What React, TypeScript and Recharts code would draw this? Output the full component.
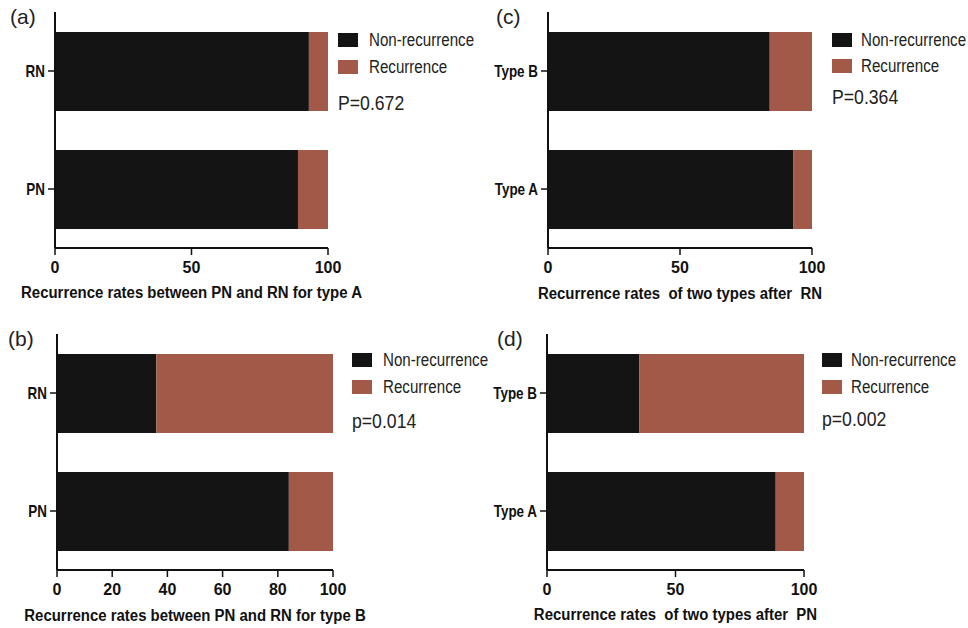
import React from "react";
import { BarChart, Bar, XAxis, YAxis, Legend } from "recharts";

const FONT = "'Liberation Sans', Arial, Helvetica, sans-serif";
const BLACK = "#141414";
const RUST = "#a25948";
const SQUEEZE = 0.84;

const seriesNames = ["Non-recurrence", "Recurrence"];
const seriesColors = [BLACK, RUST];

// (a) type A: PN vs RN
const catsA = ["RN", "PN"];
const nonRecA = [93, 89];
const recA = [7, 11];

// (b) type B: PN vs RN
const catsB = ["RN", "PN"];
const nonRecB = [36, 84];
const recB = [64, 16];

// (c) after RN: type A vs B
const catsC = ["Type B", "Type A"];
const nonRecC = [84, 93];
const recC = [16, 7];

// (d) after PN: type A vs B
const catsD = ["Type B", "Type A"];
const nonRecD = [36, 89];
const recD = [64, 11];

const ticks50 = [0, 50, 100];
const ticks20 = [0, 20, 40, 60, 80, 100];

interface PanelProps {
  tag: string;
  cats: string[];
  nonRec: number[];
  rec: number[];
  ticks: number[];
  title: string;
  pText: string;
  left: number;
  top: number;
  plotLeft: number;
  plotRight: number;
  plotTop: number;
  plotBottom: number;
  legendX: number;
  textGap: number;
  rowY: number[];
  pY: number;
  tagX: number;
  tagY: number;
  titleBase: number;
}

const W = 484;
const H = 314;

// condensed category labels, like the narrow font of the original
const YTick = (props: any) => {
  const { x, y, payload } = props;
  return (
    <g transform={`translate(${x},${y})`}>
      <text
        x={0}
        y={0}
        dy="0.36em"
        textAnchor="end"
        transform={`scale(${SQUEEZE},1)`}
        fill="#111"
        fontSize={16}
        fontWeight={700}
        fontFamily={FONT}
      >
        {payload.value}
      </text>
    </g>
  );
};

const Squeezed: React.FC<{ children: React.ReactNode; size: number }> = ({ children, size }) => (
  <span
    style={{
      display: "inline-block",
      fontSize: size,
      transform: `scaleX(${SQUEEZE})`,
      transformOrigin: "left center",
      whiteSpace: "nowrap",
    }}
  >
    {children}
  </span>
);

const Panel: React.FC<PanelProps> = (p) => {
  const data = p.cats.map((c, i) => ({ cat: c, nonRec: p.nonRec[i], rec: p.rec[i] }));
  const midX = (p.plotLeft + p.plotRight) / 2;

  const legendContent = () => (
    <div style={{ position: "relative", width: 160, height: 130, fontFamily: FONT, color: "#222" }}>
      {seriesNames.map((name, i) => (
        <div
          key={name}
          style={{ position: "absolute", left: 0, top: p.rowY[i] - 10, height: 20, display: "flex", alignItems: "center", whiteSpace: "nowrap" }}
        >
          <div style={{ width: 20, height: 14, background: seriesColors[i], marginRight: p.textGap - 20 }} />
          <span style={{ lineHeight: "20px" }}>
            <Squeezed size={18}>{name}</Squeezed>
          </span>
        </div>
      ))}
      <div style={{ position: "absolute", left: 0, top: p.pY - 12, lineHeight: "24px", whiteSpace: "nowrap" }}>
        <Squeezed size={21}>{p.pText}</Squeezed>
      </div>
    </div>
  );

  const titleLabel = () => (
    <text
      x={0}
      y={0}
      transform={`translate(${midX},${p.titleBase}) scale(0.88,1)`}
      textAnchor="middle"
      fill="#111"
      fontSize={17}
      fontWeight={700}
      fontFamily={FONT}
      style={{ whiteSpace: "pre" }}
    >
      {p.title}
    </text>
  );

  return (
    <div style={{ position: "absolute", left: p.left, top: p.top, width: W, height: H }}>
      <div
        style={{ position: "absolute", left: p.tagX, top: p.tagY - 12, fontFamily: FONT, fontSize: 21, lineHeight: "24px", color: "#222", zIndex: 2 }}
      >
        {p.tag}
      </div>
      <BarChart
        width={W}
        height={H}
        layout="vertical"
        data={data}
        margin={{ top: p.plotTop, right: W - p.plotRight, bottom: 0, left: 0 }}
      >
        <XAxis
          type="number"
          domain={[0, 100]}
          ticks={p.ticks}
          interval={0}
          height={H - p.plotBottom}
          axisLine={{ stroke: "#111", strokeWidth: 2 }}
          tickLine={{ stroke: "#111", strokeWidth: 1.5 }}
          tickSize={7}
          tickMargin={7}
          tick={{ fill: "#111", fontSize: 16, fontWeight: 700, fontFamily: FONT }}
          label={titleLabel}
        />
        <YAxis
          type="category"
          dataKey="cat"
          width={p.plotLeft}
          axisLine={{ stroke: "#111", strokeWidth: 2 }}
          tickLine={{ stroke: "#111", strokeWidth: 1.5 }}
          tickSize={7}
          tickMargin={3}
          tick={<YTick />}
        />
        <Legend
          layout="vertical"
          align="center"
          verticalAlign="middle"
          content={legendContent}
          wrapperStyle={{ left: p.legendX, top: 0, width: 160, height: 130 }}
        />
        <Bar dataKey="nonRec" name={seriesNames[0]} stackId="s" fill={BLACK} barSize={79} isAnimationActive={false} />
        <Bar dataKey="rec" name={seriesNames[1]} stackId="s" fill={RUST} barSize={79} isAnimationActive={false} />
      </BarChart>
    </div>
  );
};

export default function App() {
  return (
    <div style={{ position: "absolute", left: 0, top: 0, width: 968, height: 628, background: "#fff", overflow: "hidden" }}>
      <Panel
        tag="(a)"
        cats={catsA}
        nonRec={nonRecA}
        rec={recA}
        ticks={ticks50}
        title="Recurrence rates between PN and RN for type A"
        pText="P=0.672"
        left={0}
        top={0}
        plotLeft={55}
        plotRight={328}
        plotTop={12}
        plotBottom={248}
        legendX={338}
        textGap={31}
        rowY={[40, 67]}
        pY={103}
        tagX={10}
        tagY={17}
        titleBase={298}
      />
      <Panel
        tag="(c)"
        cats={catsC}
        nonRec={nonRecC}
        rec={recC}
        ticks={ticks50}
        title="Recurrence rates  of two types after  RN"
        pText="P=0.364"
        left={484}
        top={0}
        plotLeft={64}
        plotRight={328}
        plotTop={12}
        plotBottom={248}
        legendX={348}
        textGap={29}
        rowY={[40, 66]}
        pY={97}
        tagX={12}
        tagY={17}
        titleBase={299}
      />
      <Panel
        tag="(b)"
        cats={catsB}
        nonRec={nonRecB}
        rec={recB}
        ticks={ticks20}
        title="Recurrence rates between PN and RN for type B"
        pText="p=0.014"
        left={0}
        top={314}
        plotLeft={57}
        plotRight={333}
        plotTop={20}
        plotBottom={256}
        legendX={352}
        textGap={31}
        rowY={[46, 73]}
        pY={107}
        tagX={8}
        tagY={25}
        titleBase={307}
      />
      <Panel
        tag="(d)"
        cats={catsD}
        nonRec={nonRecD}
        rec={recD}
        ticks={ticks50}
        title="Recurrence rates  of two types after  PN"
        pText="p=0.002"
        left={484}
        top={314}
        plotLeft={63}
        plotRight={320}
        plotTop={20}
        plotBottom={256}
        legendX={338}
        textGap={29}
        rowY={[46, 73]}
        pY={105}
        tagX={13}
        tagY={25}
        titleBase={306}
      />
    </div>
  );
}
